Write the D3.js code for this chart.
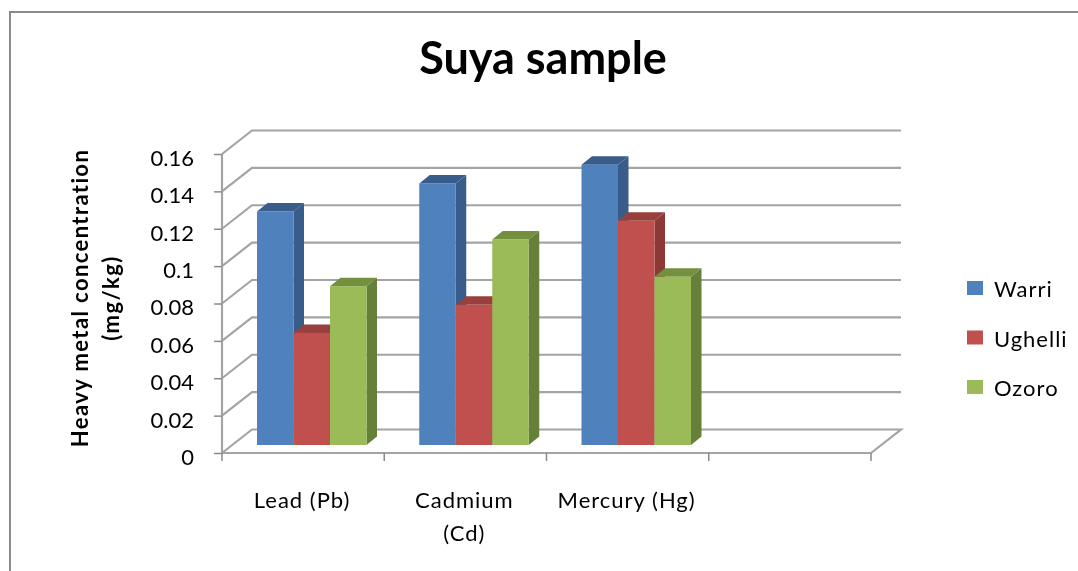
<!DOCTYPE html>
<html><head><meta charset="utf-8">
<script src="https://cdn.jsdelivr.net/npm/d3@7/dist/d3.min.js"></script>
<style>
html,body{margin:0;padding:0;background:#fff}
svg{display:block;filter:blur(0.5px)}
text{font-family:Lato,"Open Sans",sans-serif;fill:#000}
</style></head><body>
<script>
const categories=["Lead (Pb)","Cadmium (Cd)","Mercury (Hg)",""];
const categoryLines=[["Lead (Pb)"],["Cadmium","(Cd)"],["Mercury (Hg)"],[]];
const seriesNames=["Warri","Ughelli","Ozoro"];
const warri=[0.125,0.14,0.15];
const ughelli=[0.06,0.075,0.12];
const ozoro=[0.085,0.11,0.09];
const seriesValues=[warri,ughelli,ozoro];
const frontColors=["#4f81bd","#c0504d","#9bbb59"];
const sideColors=["#385d8a","#8c3836","#66803a"];
const topColors=["#385d8a","#98403d","#74903f"];
const yTicks=[0,0.02,0.04,0.06,0.08,0.1,0.12,0.14,0.16];
const title="Suya sample";
const yTitle=["Heavy metal concentration","(mg/kg)"];

const W=1078,H=571;
const svg=d3.select("body").append("svg").attr("width",W).attr("height",H);
svg.append("path").attr("d",`M10,${H}V12H${W}`).attr("fill","none").attr("stroke","#8a8a8a").attr("stroke-width",2);

const x=d3.scaleBand().domain(categories).range([222,871]);
const y=d3.scaleLinear().domain([0,0.16]).range([453,154]);
const wall={dx:30,dy:-23.5}, bar={dx:10.5,dy:-8.5}, lift={dx:0,dy:-8};
const grid="#a4a4a4";
const g=svg.append("g");

// walls
yTicks.forEach(t=>{
  g.append("path")
   .attr("d",`M${x.range()[0]},${y(t)}l${wall.dx},${wall.dy}H${x.range()[1]+wall.dx}`+(t===0?`l${-wall.dx},${-wall.dy}H${x.range()[0]}`:""))
   .attr("fill","none").attr("stroke",grid).attr("stroke-width",2.2);
});
g.append("line").attr("x1",222).attr("x2",222).attr("y1",y(0.16)).attr("y2",y(0)).attr("stroke",grid).attr("stroke-width",2.2);

// axes
const ya=d3.axisLeft(y).tickValues(yTicks).tickFormat(d=>String(d)).tickSize(8).tickPadding(20);
const yg=svg.append("g").attr("transform","translate(222,0)").call(ya);
yg.select(".domain").remove();
yg.selectAll("line").attr("stroke","#8a8a8a").attr("stroke-width",1.5);
yg.selectAll("text").attr("font-size",22).attr("dy","0.34em").attr("transform","translate(0,4)");

const xTicks=categories.map(c=>x(c)).concat(x.range()[1]);
svg.selectAll("line.xt").data(xTicks).join("line").attr("class","xt")
 .attr("x1",d=>d).attr("x2",d=>d).attr("y1",453).attr("y2",461).attr("stroke","#8a8a8a").attr("stroke-width",1.5);

categoryLines.forEach((ls,i)=>{
  const cx=x(categories[i])+x.bandwidth()/2;
  ls.forEach((l,j)=>{
    svg.append("text").attr("x",cx-1).attr("y",508+j*33).attr("text-anchor","middle").attr("font-size",22).attr("letter-spacing",1).text(l);
  });
});

// bars
const bw=36.5, groupOffset=35;
categories.slice(0,3).forEach((c,i)=>{
  const x0=x(c)+groupOffset, yb=y(0)+lift.dy;
  seriesValues.forEach((vals,s)=>{
    const bx=x0+s*bw, top=y(vals[i])+lift.dy;
    const h=yb-top;
    const gb=g.append("g");
    gb.append("path").attr("d",`M${bx+bw},${top}l${bar.dx},${bar.dy}v${h}l${-bar.dx},${-bar.dy}z`).attr("fill",sideColors[s]);
    gb.append("path").attr("d",`M${bx},${top}l${bar.dx},${bar.dy}h${bw}l${-bar.dx},${-bar.dy}z`).attr("fill",topColors[s]);
    gb.append("rect").attr("x",bx).attr("y",top).attr("width",bw).attr("height",h).attr("fill",frontColors[s]);
  });
});

// title
svg.append("text").attr("x",543).attr("y",74).attr("text-anchor","middle").attr("font-size",45).attr("font-weight",700).text(title);
// y title
yTitle.forEach((l,i)=>{
  svg.append("text").attr("transform",`translate(${88+i*31},298) rotate(-90)`).attr("text-anchor","middle")
   .attr("font-size",22).attr("font-weight",700).attr("letter-spacing",1.4).text(l);
});
// legend
const ly=d3.scalePoint().domain(seriesNames).range([288,387]);
seriesNames.forEach((n,i)=>{
  svg.append("rect").attr("x",967).attr("y",ly(n)-7).attr("width",16).attr("height",14).attr("fill",frontColors[i]);
  svg.append("text").attr("x",994).attr("y",ly(n)+9).attr("font-size",22).attr("letter-spacing",1).text(n);
});
</script></body></html>
